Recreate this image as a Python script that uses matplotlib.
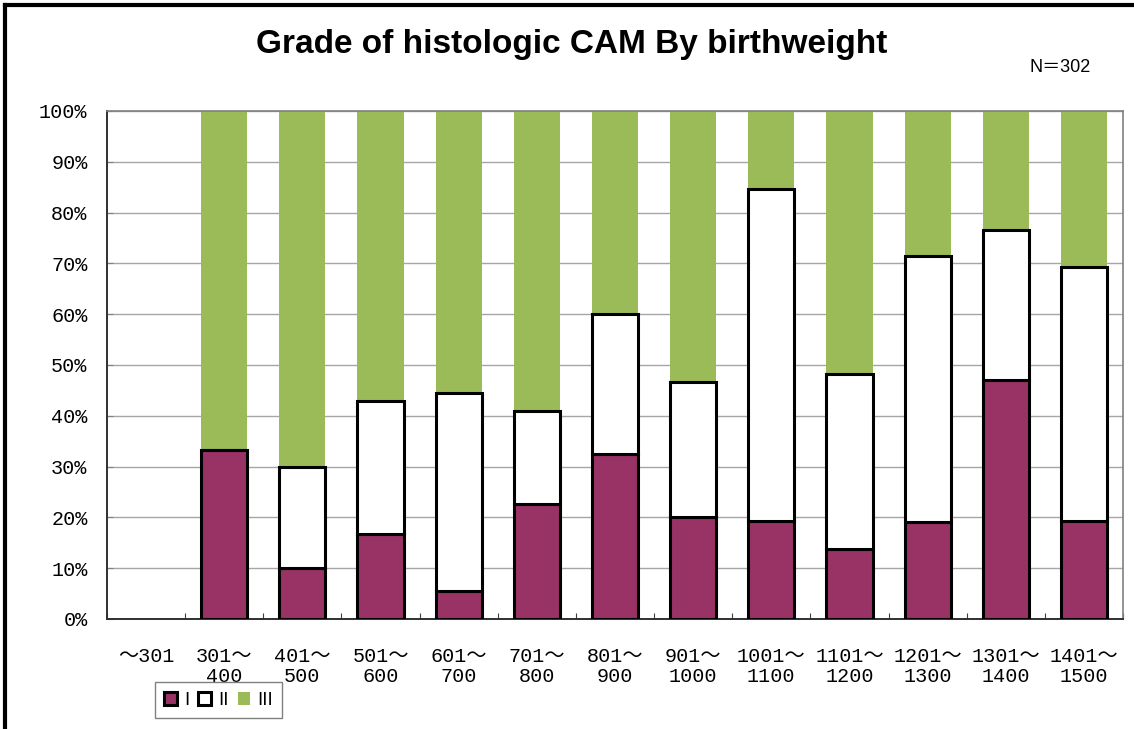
import matplotlib
matplotlib.use("Agg")
import matplotlib.pyplot as plt
from matplotlib.patches import Patch
from matplotlib.lines import Line2D
import numpy as np

categories = ["～301", "301～\n400", "401～\n500", "501～\n600", "601～\n700",
              "701～\n800", "801～\n900", "901～\n1000", "1001～\n1100",
              "1101～\n1200", "1201～\n1300", "1301～\n1400", "1401～\n1500"]
grade_I = [0, 33.3, 10.0, 16.7, 5.6, 22.7, 32.5, 20.0, 19.2, 13.8, 19.0, 47.1, 19.2]
grade_II = [0, 0, 20.0, 26.2, 38.8, 18.2, 27.5, 26.7, 65.4, 34.5, 52.4, 29.4, 50.0]
grade_III = [0, 66.7, 70.0, 57.1, 55.6, 59.1, 40.0, 53.3, 15.4, 51.7, 28.6, 23.5, 30.8]
series_labels = ["I", "II", "III"]
yticks = [0, 10, 20, 30, 40, 50, 60, 70, 80, 90, 100]

c_I = "#993366"
c_II = "#ffffff"
c_III = "#9bbb59"
mono = ["Liberation Mono", "Noto Sans CJK JP"]

fig = plt.figure(figsize=(11.34, 7.29), dpi=100)
ax = fig.add_axes([107/1134, 1 - 619/729, (1123-107)/1134, (619-111)/729])

x = np.arange(len(categories))
I = np.array(grade_I); II = np.array(grade_II); III = np.array(grade_III)
w = 0.59
has = (I + II + III) > 0
ax.bar(x[has], I[has], w, color=c_I, edgecolor="black", linewidth=2.2, zorder=3)
ax.bar(x[has], II[has], w, bottom=I[has], color=c_II, edgecolor="black", linewidth=2.2, zorder=3)
ax.bar(x[has], III[has], w, bottom=(I+II)[has], color=c_III, edgecolor="none", linewidth=0, zorder=2)

ax.set_xlim(-0.5, len(categories) - 0.5)
ax.set_ylim(0, 100)
ax.set_yticks(yticks)
ax.set_yticklabels([f"{v}%" for v in yticks], family=mono, fontsize=14.5)
ax.yaxis.grid(True, color="#a6a6a6", linewidth=1.0, zorder=0)
ax.set_axisbelow(True)

ax.set_xticks(np.arange(len(categories) + 1) - 0.5)
ax.set_xticklabels([])
ax.set_xticks(x, minor=True)
ax.set_xticklabels(categories, minor=True, family=mono, fontsize=14.5, linespacing=1.05)
ax.tick_params(axis="x", which="major", direction="in", length=4, color="#404040")
ax.tick_params(axis="x", which="minor", length=0, pad=20)
ax.tick_params(axis="y", direction="in", length=4, color="#808080", pad=14)

for s in ["top", "right"]:
    ax.spines[s].set_color("#808080")
    ax.spines[s].set_linewidth(1.2)
for s in ["left", "bottom"]:
    ax.spines[s].set_color("#303030")
    ax.spines[s].set_linewidth(1.4)

fig.text(572/1134, 1 - 45/729, "Grade of histologic CAM By birthweight",
         ha="center", va="center", fontsize=24, fontweight="bold", family="Liberation Sans")
fig.text(1060/1134, 1 - 67/729, "N＝302", ha="center", va="center",
         fontsize=13, family=["Liberation Sans", "Noto Sans CJK JP"])

handles = [Patch(facecolor=c_I, edgecolor="black", linewidth=2.2),
           Patch(facecolor=c_II, edgecolor="black", linewidth=2.2),
           Patch(facecolor=c_III, edgecolor="none")]
leg = fig.legend(handles, series_labels, loc="upper left",
                 bbox_to_anchor=(155/1134, 1 - 682/729), ncol=3,
                 prop={"family": "DejaVu Sans", "size": 13},
                 handlelength=0.7, handleheight=0.7, handletextpad=0.4,
                 columnspacing=0.5, borderpad=0.5, borderaxespad=0, fancybox=False,
                 frameon=True, edgecolor="#808080", framealpha=1)
leg.get_frame().set_linewidth(1.0)

# outer chart frame (top and left visible)
fig.add_artist(Line2D([5/1134, 5/1134], [0, 1 - 5/729], transform=fig.transFigure,
                      color="black", linewidth=3))
fig.add_artist(Line2D([5/1134, 1], [1 - 5/729, 1 - 5/729], transform=fig.transFigure,
                      color="black", linewidth=3))

fig.savefig("out.png", dpi=100)
